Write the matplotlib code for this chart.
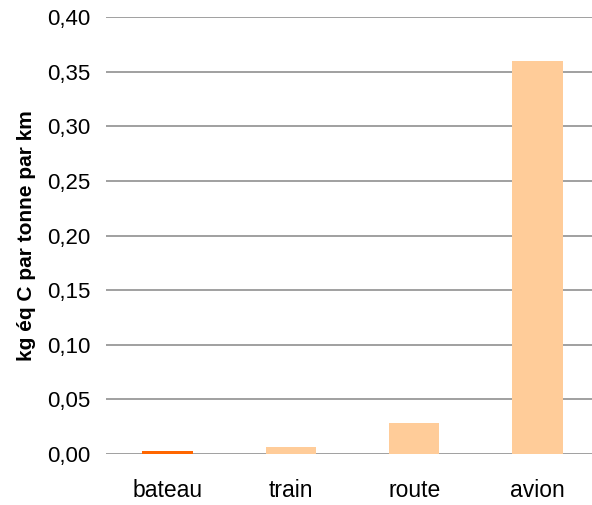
import matplotlib.pyplot as plt
import numpy as np

plt.rcParams['font.family'] = ['Liberation Sans', 'DejaVu Sans']

# transport modes and emissions (kg eq C per tonne per km)
modes = ['bateau', 'train', 'route', 'avion']
values = [0.003, 0.0065, 0.028, 0.36]
colors = ['#FF6600', '#FFCC99', '#FFCC99', '#FFCC99']
yticks = [0.00, 0.05, 0.10, 0.15, 0.20, 0.25, 0.30, 0.35, 0.40]

fig = plt.figure(figsize=(5.92, 5.05), dpi=100)
# right edge of the plot runs past the figure border, like the original
ax = fig.add_axes([0.179, 0.101, 0.833, 0.865])

x = np.arange(len(modes))
ax.bar(x, values, width=0.41, color=colors, zorder=3)

ax.set_ylim(0, 0.40)
ax.set_xlim(-0.5, len(modes) - 0.5)
ax.set_yticks(yticks)
ax.set_yticklabels([('%.2f' % t).replace('.', ',') for t in yticks], fontsize=16)
ax.set_xticks(x)
ax.set_xticklabels(modes, fontsize=16.5)
ax.tick_params(axis='both', length=0)
ax.tick_params(axis='y', pad=11)
ax.tick_params(axis='x', pad=18)

ax.grid(axis='y', color='#999999', linewidth=1.3, zorder=0)
for s in ax.spines.values():
    s.set_visible(False)

ax.set_ylabel('kg éq C par tonne par km', fontsize=15, fontweight='bold', labelpad=8)

fig.savefig('out.png', dpi=100)
